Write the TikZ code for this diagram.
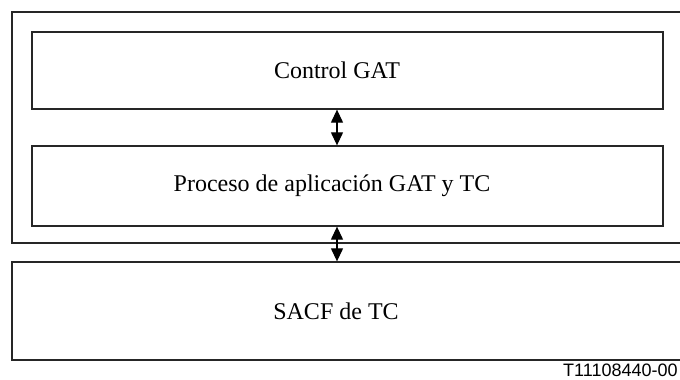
\documentclass[tikz,border=0pt]{standalone}
\usepackage{fontspec}
\setmainfont{Liberation Serif}
\newfontfamily\labelfont{Liberation Sans}
\usetikzlibrary{arrows.meta}
\begin{document}
\begin{tikzpicture}[x=0.5pt,y=-0.5pt,
  box/.style={draw=black!85, line width=0.65pt, rectangle, inner sep=0pt},
  txt/.style={font=\fontsize{12}{14}\selectfont, inner sep=0pt},
  link/.style={line width=0.6pt, {Triangle[length=6.5pt,width=6pt]}-{Triangle[length=6.5pt,width=6pt]}}]
\useasboundingbox (0,0) rectangle (680,380);
\node[box, minimum width=678*0.5pt, minimum height=231*0.5pt] (outer) at (351,127.5) {};
\node[box, minimum width=631*0.5pt, minimum height=77*0.5pt] (b1) at (347.5,70.5) {};
\node[box, minimum width=631*0.5pt, minimum height=80*0.5pt] (b2) at (347.5,186) {};
\node[box, minimum width=678*0.5pt, minimum height=98*0.5pt] (b3) at (351,311) {};
\node[txt] (t1) at (337,70.5) {Control GAT};
\node[txt] (t2) at (332,186) {Proceso de aplicación GAT y TC};
\node[txt] (t3) at (336,311) {SACF de TC};
\coordinate (ax) at (337,0);
\draw[link] (b1.south -| ax) -- (b2.north -| ax);
\draw[link] (b2.south -| ax) -- (b3.north -| ax);
\node[font=\labelfont\fontsize{9}{10}\selectfont, anchor=base east, inner sep=0pt] (code) at (678,376) {T11108440-00};
\end{tikzpicture}
\end{document}
